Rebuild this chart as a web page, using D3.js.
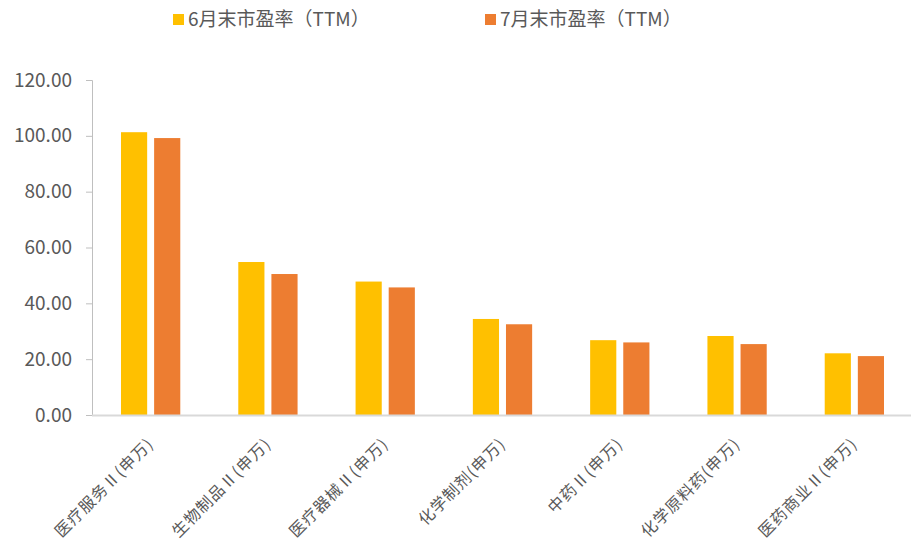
<!DOCTYPE html>
<html>
<head>
<meta charset="utf-8">
<script src="https://cdn.jsdelivr.net/npm/d3@7"></script>
<style>
  body { margin: 0; background: #fff; }
  text { font-family: "Noto Sans CJK SC", "Noto Sans", sans-serif; fill: #595959; }
</style>
</head>
<body>
<div id="chart"></div>
<script>
const categories = ["医疗服务Ⅱ(申万)", "生物制品Ⅱ(申万)", "医疗器械Ⅱ(申万)", "化学制剂(申万)", "中药Ⅱ(申万)", "化学原料药(申万)", "医药商业Ⅱ(申万)"];
const seriesNames = ["6月末市盈率（TTM）", "7月末市盈率（TTM）"];
const juneValues = [101.3, 54.8, 47.8, 34.4, 26.8, 28.3, 22.1];
const julyValues = [99.2, 50.5, 45.7, 32.5, 26.0, 25.4, 21.1];
const yTicks = [0, 20, 40, 60, 80, 100, 120];
const colors = ["#FFC000", "#ED7D31"];

const width = 911;
const height = 546;
const margin = { top: 80, right: -2, bottom: 131, left: 92 };

const svg = d3.select("#chart").append("svg")
  .attr("width", width)
  .attr("height", height);

const x = d3.scaleBand()
  .domain(categories)
  .range([margin.left, width - margin.right])
  .paddingInner(0)
  .paddingOuter(0);

const inner = d3.scaleBand()
  .domain([0, 1])
  .range([29, x.bandwidth() - 29])
  .paddingInner(0.21);

const y = d3.scaleLinear()
  .domain([0, 120])
  .range([height - margin.bottom, margin.top]);

// y axis
const yAxis = svg.append("g")
  .attr("transform", "translate(" + margin.left + ",0)")
  .call(d3.axisLeft(y).tickValues(yTicks).tickFormat(d3.format(".2f")).tickSize(6).tickPadding(14));
yAxis.select(".domain").attr("stroke", "#bfbfbf");
yAxis.selectAll(".tick line").attr("stroke", "#bfbfbf");
yAxis.selectAll(".tick text").attr("font-size", 19).style("fill", "#595959");

// bars
const rows = categories.map((c, i) => ({ cat: c, vals: [juneValues[i], julyValues[i]] }));
const groups = svg.append("g").selectAll("g")
  .data(rows)
  .enter()
  .append("g")
  .attr("transform", d => "translate(" + x(d.cat) + ",0)");

groups.selectAll("rect")
  .data(d => d.vals.map((v, k) => ({ v: v, k: k })))
  .enter()
  .append("rect")
  .attr("x", d => inner(d.k))
  .attr("width", inner.bandwidth())
  .attr("y", d => y(d.v))
  .attr("height", d => y(0) - y(d.v))
  .attr("fill", d => colors[d.k]);

// x axis line
svg.append("line")
  .attr("x1", margin.left)
  .attr("x2", width)
  .attr("y1", y(0) + 0.5)
  .attr("y2", y(0) + 0.5)
  .attr("stroke", "#d9d9d9")
  .attr("stroke-width", 2);

// x labels
svg.append("g").selectAll("text")
  .data(categories)
  .enter()
  .append("text")
  .attr("transform", d => "translate(" + (x(d) + x.bandwidth() / 2 + 4) + "," + (y(0) + 30) + ") rotate(-45)")
  .attr("text-anchor", "end")
  .attr("font-size", 16)
  .attr("letter-spacing", 1)
  .text(d => d);

// legend
const legendX = [173, 485];
const legend = svg.append("g").selectAll("g")
  .data(seriesNames)
  .enter()
  .append("g")
  .attr("transform", (d, i) => "translate(" + legendX[i] + ",14)");
legend.append("rect")
  .attr("width", 11)
  .attr("height", 11)
  .attr("fill", (d, i) => colors[i]);
legend.append("text")
  .attr("x", 15)
  .attr("y", 12)
  .attr("font-size", 19)
  .text(d => d);
</script>
</body>
</html>
